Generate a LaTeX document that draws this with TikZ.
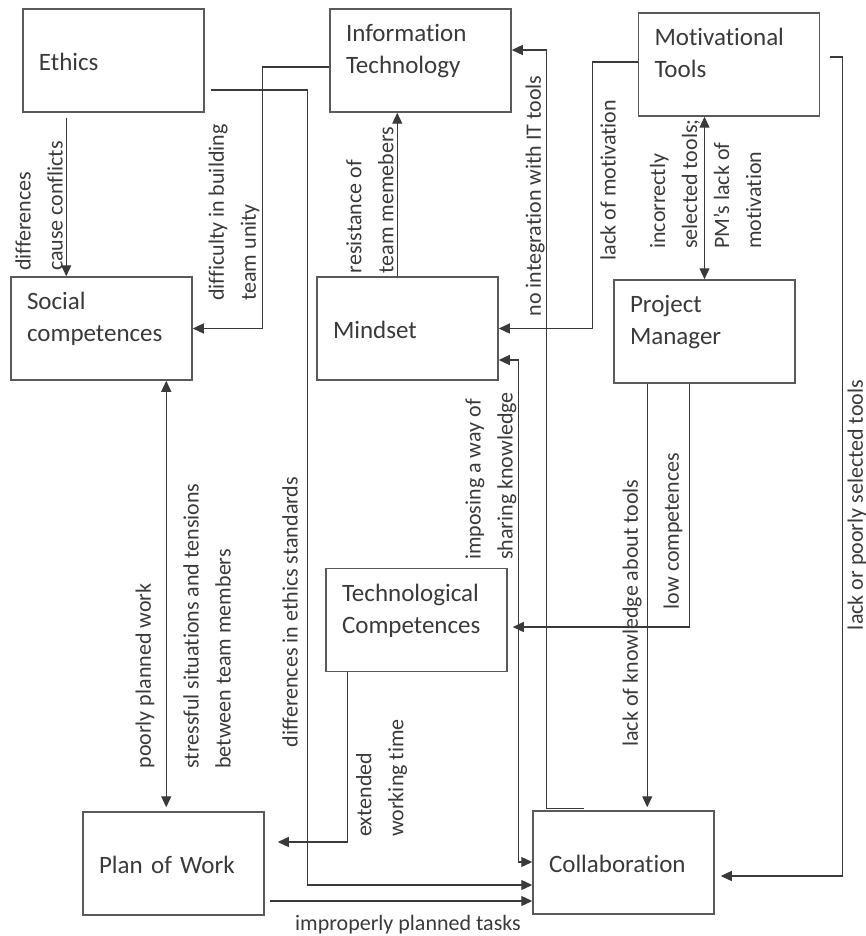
\documentclass[tikz,border=0pt]{standalone}
\usepackage{fontspec}
\setmainfont{Carlito}[Ligatures={TeX,NoCommon}]
\usepackage{tikz}
\usetikzlibrary{arrows.meta,calc}
\definecolor{ink}{HTML}{3A3A3A}
\definecolor{frame}{HTML}{5A5A5A}
\tikzset{
  every picture/.style={line join=miter, >={Triangle[length=5.5pt,width=5pt]}},
  factor/.style={draw=frame, line width=0.75pt, minimum width=90.5pt, minimum height=51.5pt,
    text width=74.5pt, inner xsep=8pt, inner ysep=0pt, align=left, text=ink,
    font=\fontsize{12.5}{16}\selectfont, text height=11pt, text depth=1pt},
  twoline/.style={text height=5pt, text depth=24pt},
  cause/.style={inner sep=0pt, align=left, text=ink, font=\fontsize{11}{16}\selectfont},
  link/.style={draw=ink, line width=0.65pt, ->},
  both/.style={draw=ink, line width=0.65pt, <->},
}

\begin{document}
\begin{tikzpicture}[x=0.5pt,y=-0.5pt]
\useasboundingbox (0,0) rectangle (866,936);
\node[factor] (ethics) at (113.5,60.5) {Ethics};
\node[factor,twoline] (it) at (420.5,60.5) {Information\\Technology};
\node[factor,twoline] (tools) at (729,64.5) {Motivational\\Tools};
\node[factor,twoline] (social) at (101.5,328.5) {Social\\competences};
\node[factor] (mindset) at (407.5,328.5) {Mindset};
\node[factor,twoline] (pm) at (704.5,331.5) {Project\\Manager};
\node[factor,twoline] (techcomp) at (416.5,620) {Technological\\Competences};
\node[factor] (plan) at (173.5,863.5) {Plan of Work};
\node[factor] (collab) at (623.5,862.5) {Collaboration};

\draw[link] ($(ethics.south west)+(44,5)$) -- ($(social.north west)+(56,0)$);
\draw[link] ($(it.west)+(0,6.5)$) -| ($(social.east)+(70,0)$) -- (social.east);
\draw[link] ($(ethics.east)+(6,29.5)$) -| ($(collab.west)+(-225,22.5)$) -- ($(collab.west)+(0,22.5)$);
\draw[both] ($(social.south west)+(156,0)$) -- ($(plan.north west)+(84,-4)$);
\draw[link] ($(mindset.north west)+(81,0)$) -- ($(it.south west)+(68,0)$);
\draw[link] ($(collab.north west)+(52,-2)$) -- ++(-38,0) |- ($(it.east)+(0,-10.5)$);
\draw[link] ($(tools.west)+(0,-2.5)$) -- ++(-45,0) |- (mindset.east);
\draw[both] (tools.south -| pm.north) -- (pm.north);
\draw[link] ($(pm.south west)+(34,0)$) -- ($(collab.north west)+(115,-3)$);
\draw[link] ($(pm.south west)+(76,0)$) |- ($(techcomp.east)+(5,7)$);
\draw[link] ($(tools.east)+(10,-7.5)$) -- ++(12,0) |- ($(collab.east)+(6,13.5)$);
\draw[both] ($(mindset.east)+(0,31.5)$) -- ++(20,0) |- ($(collab.west)+(0,-0.5)$);
\draw[link] ($(techcomp.south west)+(22,0)$) |- ($(plan.east)+(13,-21.5)$);
\draw[link] ($(plan.east)+(5,37.5)$) -- ($(collab.west)+(0,38.5)$);

\node[cause,rotate=90] (conflicts) at (39,206) {differences\\cause conflicts};
\node[cause,rotate=90] (unity) at (234,212.5) {difficulty in building\\team unity};
\node[cause,rotate=90] (resistance) at (370,200) {resistance of\\team memebers};
\node[cause,rotate=90] (integration) at (535,196) {no integration with IT tools};
\node[cause,rotate=90] (motivation) at (608,180) {lack of motivation};
\node[cause,rotate=90] (selected) at (705.5,184) {incorrectly\\selected tools;\\PM's lack of\\motivation};
\node[cause,rotate=90] (poorly) at (145,676) {poorly planned work};
\node[cause,rotate=90] (stress) at (207,626) {stressful situations and tensions\\between team members};
\node[cause,rotate=90] (standards) at (290,612) {differences in ethics standards};
\node[cause,rotate=90] (sharing) at (491,476) {imposing a way of\\sharing knowledge};
\node[cause,rotate=90] (knowledge) at (632,613) {lack of knowledge about tools};
\node[cause,rotate=90] (lowcomp) at (673,531) {low competences};
\node[cause,rotate=90] (poortools) at (857,505) {lack or poorly selected tools};
\node[cause,rotate=90] (extended) at (381.5,778) {extended\\working time};
\node[cause] (tasks) at (408,925) {improperly planned tasks};
\end{tikzpicture}
\end{document}
